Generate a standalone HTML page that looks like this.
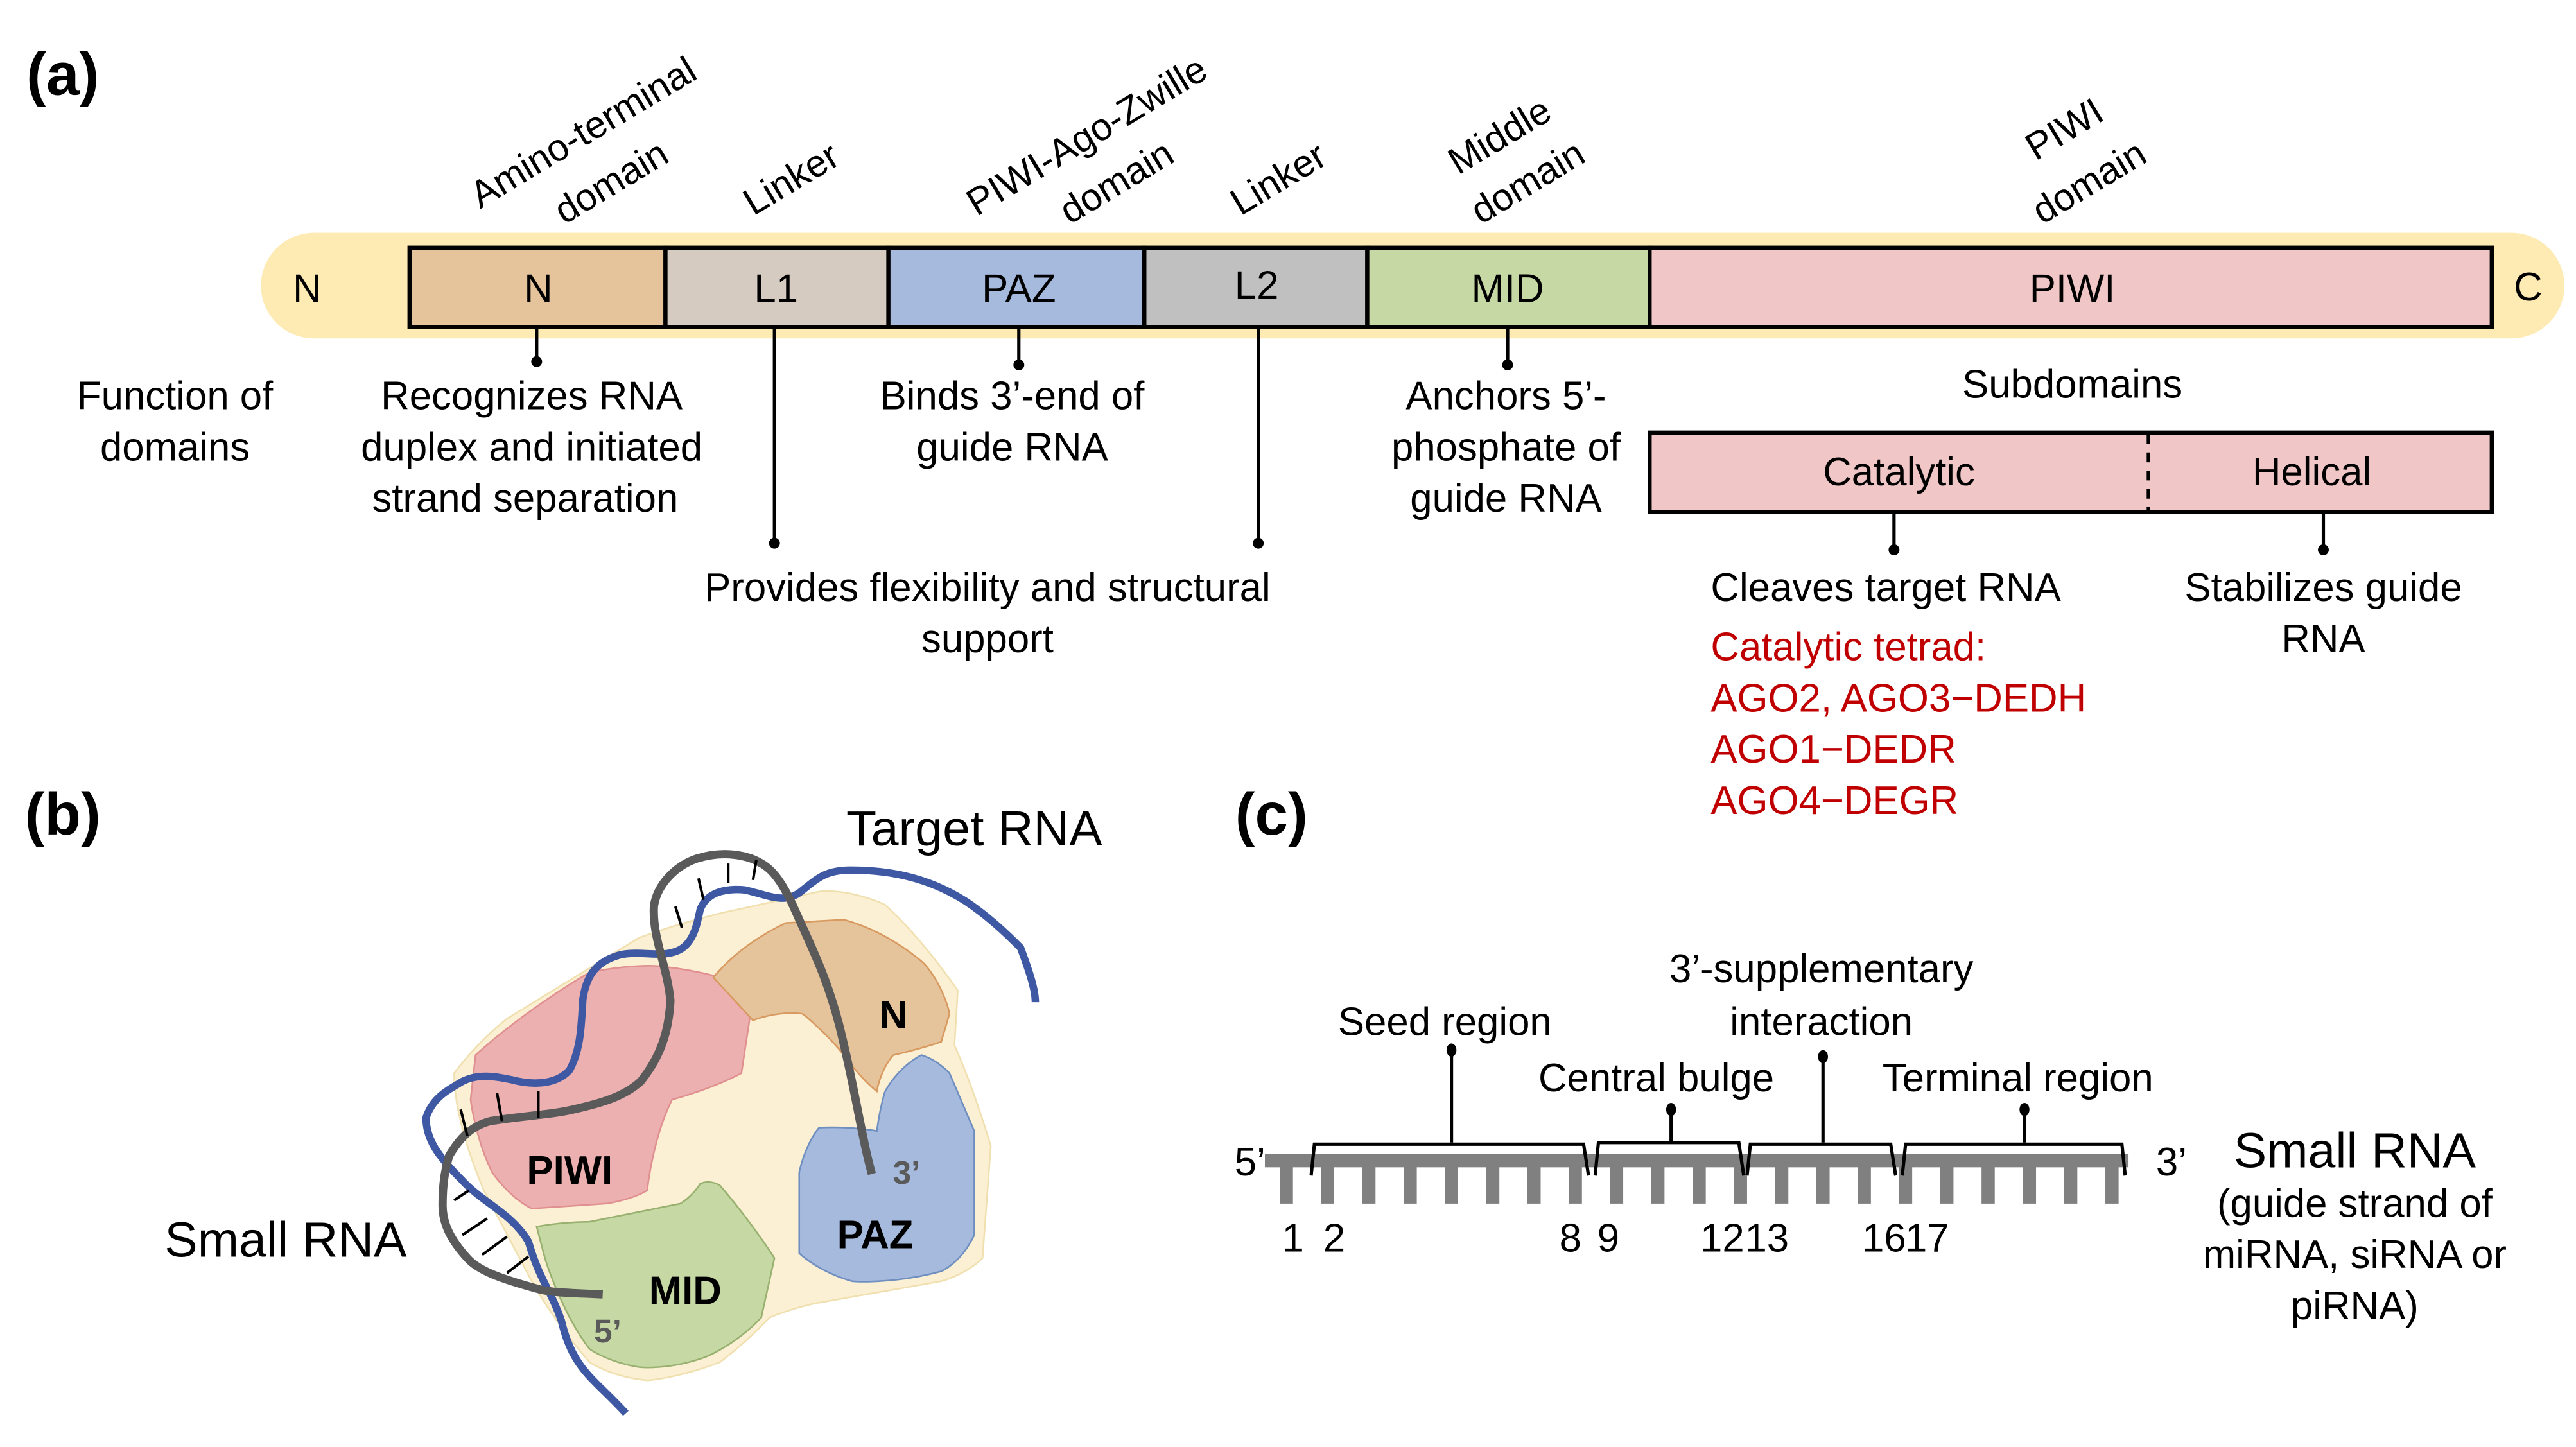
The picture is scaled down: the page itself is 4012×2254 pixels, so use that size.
<!DOCTYPE html>
<html><head><meta charset="utf-8"><style>
html,body{margin:0;padding:0;background:#fff;}
svg{display:block;}
text{font-family:"Liberation Sans",Arial,sans-serif;fill:#000;}
</style></head><body>
<svg width="4012" height="2254" viewBox="0 0 1560 876.4" preserveAspectRatio="none" xmlns="http://www.w3.org/2000/svg">
<g font-size="24" text-anchor="middle" dominant-baseline="central">
<text x="38" y="45" font-size="36" font-weight="bold">(a)</text>
<rect x="158" y="141" width="1395" height="64" rx="32" fill="#fdebb3"/>
<g stroke="#000" stroke-width="2.5">
<rect x="248" y="150" width="155" height="48" fill="#e6c49b"/>
<rect x="403" y="150" width="135" height="48" fill="#d6cbc0"/>
<rect x="538" y="150" width="155" height="48" fill="#a6bade"/>
<rect x="693" y="150" width="135" height="48" fill="#c0c0c0"/>
<rect x="828" y="150" width="171" height="48" fill="#c6d9a4"/>
<rect x="999" y="150" width="510" height="48" fill="#f1c6c7"/>
</g>
<text x="186" y="175">N</text><text x="326" y="175">N</text><text x="470" y="175">L1</text>
<text x="617" y="175">PAZ</text><text x="761" y="173">L2</text><text x="913" y="175">MID</text>
<text x="1255" y="175">PIWI</text><text x="1531" y="174">C</text>
<g font-size="23">
<text transform="translate(353,80) rotate(-31)">Amino-terminal</text>
<text transform="translate(370,110) rotate(-31)">domain</text>
<text transform="translate(479,108) rotate(-31)">Linker</text>
<text transform="translate(658,82) rotate(-31)">PIWI-Ago-Zwille</text>
<text transform="translate(676,110) rotate(-31)">domain</text>
<text transform="translate(774,108) rotate(-31)">Linker</text>
<text transform="translate(908,82) rotate(-31)">Middle</text>
<text transform="translate(925,110) rotate(-31)">domain</text>
<text transform="translate(1250,78) rotate(-31)">PIWI</text>
<text transform="translate(1265,110) rotate(-31)">domain</text>
</g>
<g stroke="#000" stroke-width="2">
<line x1="325" y1="198" x2="325" y2="218"/><line x1="469" y1="198" x2="469" y2="328"/>
<line x1="617" y1="198" x2="617" y2="220"/><line x1="762" y1="198" x2="762" y2="328"/>
<line x1="913" y1="198" x2="913" y2="220"/>
<line x1="1147" y1="310" x2="1147" y2="332"/><line x1="1407" y1="310" x2="1407" y2="332"/>
</g>
<g fill="#000"><circle cx="325" cy="219" r="3.3"/><circle cx="469" cy="329" r="3.3"/><circle cx="617" cy="221" r="3.3"/>
<circle cx="762" cy="329" r="3.3"/><circle cx="913" cy="221" r="3.3"/><circle cx="1147" cy="333" r="3.3"/><circle cx="1407" cy="333" r="3.3"/></g>
<text x="106" y="240">Function of</text><text x="106" y="271">domains</text>
<text x="322" y="240">Recognizes RNA</text><text x="322" y="271">duplex and initiated</text><text x="318" y="302">strand separation</text>
<text x="613" y="240">Binds 3’-end of</text><text x="613" y="271">guide RNA</text>
<text x="912" y="240">Anchors 5’-</text><text x="912" y="271">phosphate of</text><text x="912" y="302">guide RNA</text>
<text x="1255" y="233">Subdomains</text>
<rect x="999" y="262" width="510" height="48" fill="#f1c6c7" stroke="#000" stroke-width="2.5"/>
<line x1="1301" y1="263" x2="1301" y2="309" stroke="#000" stroke-width="2" stroke-dasharray="6,5"/>
<text x="1150" y="286">Catalytic</text><text x="1400" y="286">Helical</text>
<text x="598" y="356">Provides flexibility and structural</text><text x="598" y="387">support</text>
<text x="1407" y="356">Stabilizes guide</text><text x="1407" y="387">RNA</text>
<g text-anchor="start"><text x="1036" y="356">Cleaves target RNA</text>
<g fill="#c00000" style="fill:#c00000"><text x="1036" y="392" style="fill:#c00000">Catalytic tetrad:</text>
<text x="1036" y="423" style="fill:#c00000">AGO2, AGO3−DEDH</text><text x="1036" y="454" style="fill:#c00000">AGO1−DEDR</text>
<text x="1036" y="485" style="fill:#c00000">AGO4−DEGR</text></g></g>

<!-- (b) -->
<text x="38" y="493" font-size="36" font-weight="bold">(b)</text>
<text x="590" y="502" font-size="30">Target RNA</text>
<text x="173" y="751" font-size="30">Small RNA</text>
<path d="M275,650 C290,630 307,617 307,617 L387,568 C420,556 446,551 446,551 L496,540 C515,538 536,548 536,548 C560,570 580,600 580,600 L578,633 C590,660 600,694 600,694 L595,762 C585,772 570,776 570,776 L496,789 C480,792 466,798 466,798 C450,815 436,825 436,825 C410,835 392,836 392,836 C370,834 357,825 357,825 C335,800 322,776 322,776 L293,721 C280,690 275,666 275,650Z" fill="#fcf0d4" stroke="#f0e0b0" stroke-width="1"/>
<path d="M288,639 C320,610 357,589 357,589 C380,584 397,585 397,585 C420,587 436,592 436,592 C452,602 454,617 454,617 L449,650 C430,660 407,666 407,666 C395,690 392,721 392,721 C382,727 367,729 367,729 L322,732 C308,725 298,710 298,710 C288,690 285,666 285,666Z" fill="#ecb0b0" stroke="#e09090" stroke-width="1"/>
<path d="M432,592 C450,570 476,559 476,559 L511,557 C540,565 560,584 560,584 C572,598 575,614 575,614 L570,631 C555,636 541,639 541,639 C533,648 531,661 531,661 C520,652 511,639 511,639 C500,625 486,614 486,614 C470,612 456,618 456,618Z" fill="#e6c49b" stroke="#d89a60" stroke-width="1"/>
<path d="M496,683 C515,682 531,685 531,685 C533,670 536,661 536,661 C545,645 558,639 558,639 C568,642 575,650 575,650 L590,685 L590,748 C582,765 570,770 570,770 C540,778 516,776 516,776 C495,770 484,759 484,759 L484,710 C488,692 496,683 496,683Z" fill="#a6bade" stroke="#6f8fc0" stroke-width="1"/>
<path d="M325,743 C340,740 357,740 357,740 L412,729 C420,724 424,717 424,717 C430,714 436,718 436,718 C455,740 469,762 469,762 L461,798 C445,815 427,822 427,822 C405,830 387,828 387,828 C368,825 357,817 357,817 C340,795 330,762 330,762Z" fill="#c6d9a4" stroke="#98b070" stroke-width="1"/>
<path d="M379,856 C360,835 347,830 340,800 C333,780 327,776 320,752 C310,735 293,729 280,715 C265,700 258,690 258,677 C262,665 270,661 280,655 C290,650 300,652 310,654 C325,658 338,656 345,648 C352,635 352,620 353,605 C355,592 360,582 377,578 C390,576 400,580 410,576 C420,572 422,560 424,551 C428,540 440,538 451,539 C465,542 475,548 485,540 C495,532 500,527 515,527 C535,527 560,530 585,546 C600,556 612,568 618,574 C624,590 627,600 627,607" fill="none" stroke="#3f58a3" stroke-width="4.5" stroke-linecap="butt"/>
<path d="M365,784 C345,783 335,783 327,781 C305,775 290,770 283,762 C272,750 268,740 268,730 C268,715 270,707 272,700 C278,690 285,682 297,679 C315,676 335,675 347,672 C365,668 378,664 388,655 C400,640 405,625 406,606 C404,585 395,568 396,549 C398,535 410,524 422,520 C435,516 446,517 455,520 C465,524 471,529 480,548 C492,575 500,590 508,620 C518,660 522,690 528,711" fill="none" stroke="#5a5a5a" stroke-width="5"/>
<g stroke="#000" stroke-width="1.6">
<line x1="413" y1="562" x2="409" y2="549"/><line x1="426" y1="545" x2="423" y2="532"/>
<line x1="441" y1="535" x2="441" y2="523"/><line x1="456" y1="533" x2="458" y2="521"/>
<line x1="283" y1="688" x2="279" y2="672"/><line x1="304" y1="679" x2="301" y2="662"/><line x1="326" y1="677" x2="326" y2="661"/>
<line x1="275" y1="727" x2="284" y2="721"/><line x1="280" y1="748" x2="295" y2="738"/>
<line x1="292" y1="760" x2="307" y2="749"/><line x1="307" y1="771" x2="320" y2="761"/>
</g>
<g font-weight="bold"><text x="541" y="615">N</text><text x="345" y="709">PIWI</text><text x="530" y="748">PAZ</text><text x="415" y="782">MID</text>
<text x="549" y="710" font-size="20" style="fill:#5a5a5a">3’</text><text x="368" y="806" font-size="20" style="fill:#5a5a5a">5’</text></g>

<!-- (c) -->
<text x="770" y="493" font-size="36" font-weight="bold">(c)</text>
<rect x="766" y="699" width="523" height="8" fill="#808080"/>
<g fill="#808080">
<rect x="775" y="706" width="8" height="23"/><rect x="800" y="706" width="8" height="23"/><rect x="825" y="706" width="8" height="23"/>
<rect x="850" y="706" width="8" height="23"/><rect x="875" y="706" width="8" height="23"/><rect x="900" y="706" width="8" height="23"/>
<rect x="925" y="706" width="8" height="23"/><rect x="950" y="706" width="8" height="23"/><rect x="975" y="706" width="8" height="23"/>
<rect x="1000" y="706" width="8" height="23"/><rect x="1025" y="706" width="8" height="23"/><rect x="1050" y="706" width="8" height="23"/>
<rect x="1075" y="706" width="8" height="23"/><rect x="1100" y="706" width="8" height="23"/><rect x="1125" y="706" width="8" height="23"/>
<rect x="1150" y="706" width="8" height="23"/><rect x="1175" y="706" width="8" height="23"/><rect x="1200" y="706" width="8" height="23"/>
<rect x="1225" y="706" width="8" height="23"/><rect x="1250" y="706" width="8" height="23"/><rect x="1275" y="706" width="8" height="23"/>
</g>
<g fill="none" stroke="#000" stroke-width="2">
<path d="M794,712 L796,693 L959,693 L962,712"/>
<path d="M966,712 L968,692 L1053,692 L1056,712"/>
<path d="M1058,712 L1060,693 L1145,693 L1148,712"/>
<path d="M1152,712 L1154,693 L1285,693 L1287,712"/>
<line x1="879" y1="692" x2="879" y2="636"/><line x1="1012" y1="692" x2="1012" y2="672"/>
<line x1="1104" y1="692" x2="1104" y2="640"/><line x1="1226" y1="692" x2="1226" y2="672"/>
</g>
<g fill="#000"><ellipse cx="879" cy="636" rx="3" ry="4"/><ellipse cx="1012" cy="672" rx="3" ry="4"/>
<ellipse cx="1104" cy="640" rx="3" ry="4"/><ellipse cx="1226" cy="672" rx="3" ry="4"/></g>
<text x="875" y="619">Seed region</text>
<text x="1103" y="587">3’-supplementary</text><text x="1103" y="619">interaction</text>
<text x="1003" y="653">Central bulge</text><text x="1222" y="653">Terminal region</text>
<text x="757" y="704">5’</text><text x="1315" y="704">3’</text>
<text x="1426" y="697" font-size="30">Small RNA</text>
<text x="1426" y="729">(guide strand of</text><text x="1426" y="760">miRNA, siRNA or</text><text x="1426" y="791">piRNA)</text>
<text x="783" y="750">1</text><text x="808" y="750">2</text><text x="951" y="750">8</text><text x="974" y="750">9</text>
<text x="1043" y="750">12</text><text x="1070" y="750">13</text><text x="1141" y="750">16</text><text x="1167" y="750">17</text>
</g>
</svg>
</body></html>
